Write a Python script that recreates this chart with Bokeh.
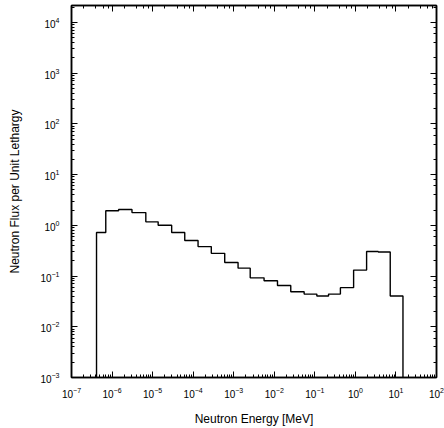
import numpy as np
from bokeh.plotting import figure
from bokeh.models import LogAxis, Range1d
from bokeh.embed import file_html
from bokeh.resources import INLINE

# Bin edges (MeV) and flux per unit lethargy
energy_edges = [4.14e-7, 7.0e-7, 1.45e-6, 3.1e-6, 6.8e-6, 1.37e-5, 2.95e-5, 6.2e-5,
                1.32e-4, 2.8e-4, 6.0e-4, 1.28e-3, 2.55e-3, 5.6e-3, 1.2e-2, 2.55e-2,
                5.45e-2, 0.112, 0.218, 0.427, 0.904, 1.89, 3.66, 7.23, 14.9]
flux = [0.72, 1.93, 2.05, 1.78, 1.17, 1.0, 0.72, 0.50, 0.38, 0.28, 0.185, 0.143,
        0.092, 0.081, 0.065, 0.049, 0.044, 0.0405, 0.044, 0.059, 0.131, 0.305,
        0.297, 0.0405]

x_label = "Neutron Energy [MeV]"
y_label = "Neutron Flux per Unit Lethargy"
y_min, y_max = 1e-3, 2.15e4
x_min, x_max = 1e-7, 1e2

FONT = "Liberation Sans"

p = figure(width=444, height=428, x_axis_type="log", y_axis_type="log",
           x_range=Range1d(x_min, x_max), y_range=Range1d(y_min, y_max),
           output_backend="svg", toolbar_location=None,
           min_border_left=71, min_border_right=8, min_border_top=5,
           min_border_bottom=50)
p.grid.visible = False
p.outline_line_color = "black"
p.outline_line_width = 1.5
p.background_fill_color = "white"
p.border_fill_color = "white"

xs = np.repeat(np.array(energy_edges), 2)
ys = np.concatenate([[y_min], np.repeat(np.array(flux), 2), [y_min]])
p.line(xs, ys, line_color="black", line_width=1.4)

def style_axis(ax, labels=True):
    ax.axis_line_color = "black"
    ax.axis_line_width = 1.5
    ax.major_tick_in = 6
    ax.major_tick_out = 0
    ax.minor_tick_in = 3
    ax.minor_tick_out = 0
    ax.major_tick_line_color = "black"
    ax.minor_tick_line_color = "black"
    ax.major_tick_line_width = 1
    ax.minor_tick_line_width = 1
    ax.major_label_text_font = FONT
    ax.major_label_text_font_size = "10px"
    ax.major_label_text_color = "black"
    ax.axis_label_text_font = FONT
    ax.axis_label_text_font_size = "12px"
    ax.axis_label_text_font_style = "normal"
    ax.axis_label_text_color = "black"
    if not labels:
        ax.major_label_text_font_size = "1px"
        ax.major_label_text_color = None
        ax.major_label_standoff = 0

style_axis(p.xaxis[0])
style_axis(p.yaxis[0])
p.xaxis[0].axis_label = x_label
p.yaxis[0].axis_label = y_label
p.xaxis[0].major_label_standoff = 9
p.xaxis[0].axis_label_standoff = 11
p.yaxis[0].major_label_standoff = 12
p.yaxis[0].axis_label_standoff = 15

top_ax = LogAxis()
right_ax = LogAxis()
style_axis(top_ax, labels=False)
style_axis(right_ax, labels=False)
p.add_layout(top_ax, "above")
p.add_layout(right_ax, "right")

open("out.html", "w").write(file_html(p, INLINE))
